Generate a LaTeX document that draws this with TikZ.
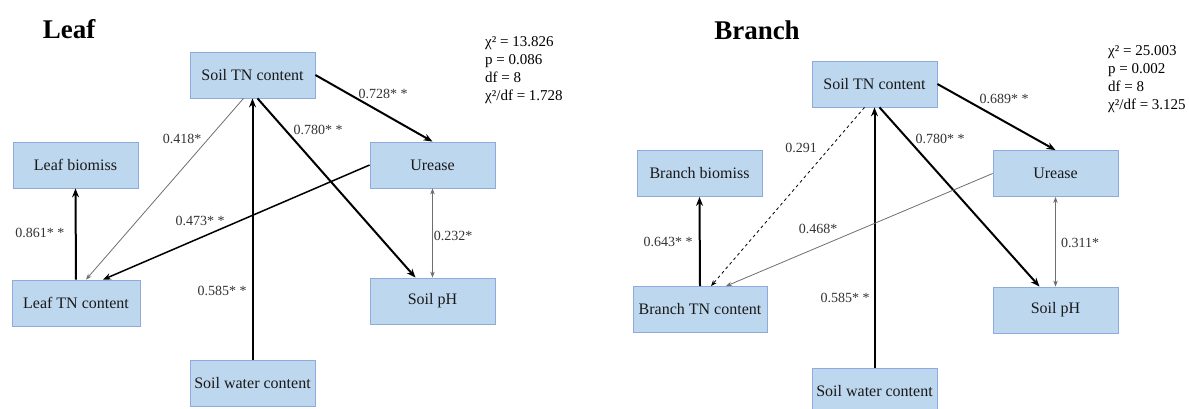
\documentclass[tikz,border=0pt]{standalone}
\usepackage{fontspec}
\setmainfont{Liberation Serif}
\usetikzlibrary{arrows.meta, positioning}
\definecolor{boxfill}{HTML}{BDD7EE}
\definecolor{boxline}{HTML}{8FAADC}
\definecolor{thingray}{HTML}{6E6E6E}

\begin{document}
\begin{tikzpicture}[x=1pt, y=-1pt,
  var/.style={draw=boxline, fill=boxfill, line width=0.8pt, minimum width=125pt,
    minimum height=46pt, inner sep=2pt, text=black!90, font=\fontsize{16}{18}\selectfont},
  coef/.style={font=\fontsize{14}{16}\selectfont, text=black!80, inner sep=0pt},
  strong/.style={-{Stealth[length=9pt,width=7pt]}, line width=2pt},
  mid/.style={-{Stealth[length=8pt,width=6.5pt]}, line width=1.5pt},
  weak/.style={-{Stealth[length=6pt,width=4.5pt]}, line width=0.8pt, thingray},
  twoway/.style={{Stealth[length=6pt,width=4.5pt]}-{Stealth[length=6pt,width=4.5pt]},
    line width=0.8pt, thingray},
  title/.style={font=\fontsize{27}{30}\selectfont\bfseries},
  stats/.style={font=\fontsize{15}{18}\selectfont, align=left, anchor=north west, inner sep=0pt}
]
  \useasboundingbox (0,0) rectangle (1189,409);

  % Leaf model
  \node[title] (leaftitle) at (69, 29) {Leaf};
  \node[stats] (leafstats) at (485, 36)
    {χ² = 13.826\\p = 0.086\\df = 8\\χ²/df = 1.728};

  \node[var] (stn) at (252.5, 75) {Soil TN content};
  \node[var] (lbm) at (75.5, 165) {Leaf biomiss};
  \node[var] (ure) at (432.5, 165) {Urease};
  \node[var, minimum width=128pt] (ltn) at (76, 303) {Leaf TN content};
  \node[var] (ph) at (432.5, 301) {Soil pH};
  \node[var] (swc) at (252.5, 383.5) {Soil water content};

  \draw[strong] (stn.east) -- (ure.north);
  \draw[weak] ([xshift=-9pt]stn.south) -- ([xshift=10pt]ltn.north);
  \draw[strong] ([xshift=5pt]stn.south) -- ([xshift=-17pt]ph.north);
  \draw[strong] (swc.north) -- (stn.south);
  \draw[mid] (ure.west) -- ([xshift=27pt]ltn.north);
  \draw[strong] (ltn.north) -- (lbm.south);
  \draw[twoway] (ure.south) -- (ph.north);

  \node[coef] (c1) at (383, 94) {0.728* *};
  \node[coef] (c2) at (182, 139) {0.418*};
  \node[coef] (c3) at (318, 130) {0.780* *};
  \node[coef] (c4) at (200, 221) {0.473* *};
  \node[coef] (c5) at (40, 233) {0.861* *};
  \node[coef] (c6) at (222, 291) {0.585* *};
  \node[coef] (c7) at (453, 236) {0.232*};

  % Branch model
  \node[title] (branchtitle) at (757, 30) {Branch};
  \node[stats] (branchstats) at (1108, 45)
    {χ² = 25.003\\p = 0.002\\df = 8\\χ²/df = 3.125};

  \node[var] (bstn) at (874.5, 84) {Soil TN content};
  \node[var] (bbm) at (699.5, 173.5) {Branch biomiss};
  \node[var] (bure) at (1055.5, 173.5) {Urease};
  \node[var, minimum width=134pt] (btn) at (700, 309.5) {Branch TN content};
  \node[var] (bph) at (1055.5, 310) {Soil pH};
  \node[var] (bswc) at (874.5, 391.5) {Soil water content};

  \draw[strong] (bstn.east) -- (bure.north);
  \draw[weak, dashed, black] ([xshift=-10pt]bstn.south) -- ([xshift=11pt]btn.north);
  \draw[strong] ([xshift=5pt]bstn.south) -- ([xshift=-16pt]bph.north);
  \draw[strong] (bswc.north) -- (bstn.south);
  \draw[weak] (bure.west) -- ([xshift=26pt]btn.north);
  \draw[strong] (btn.north) -- (bbm.south);
  \draw[twoway] (bure.south) -- (bph.north);

  \node[coef] (d1) at (1004, 99) {0.689* *};
  \node[coef] (d2) at (801, 148) {0.291};
  \node[coef] (d3) at (940, 139) {0.780* *};
  \node[coef] (d4) at (818, 229) {0.468*};
  \node[coef] (d5) at (668, 242) {0.643* *};
  \node[coef] (d6) at (845, 298) {0.585* *};
  \node[coef] (d7) at (1080, 243) {0.311*};
\end{tikzpicture}
\end{document}
